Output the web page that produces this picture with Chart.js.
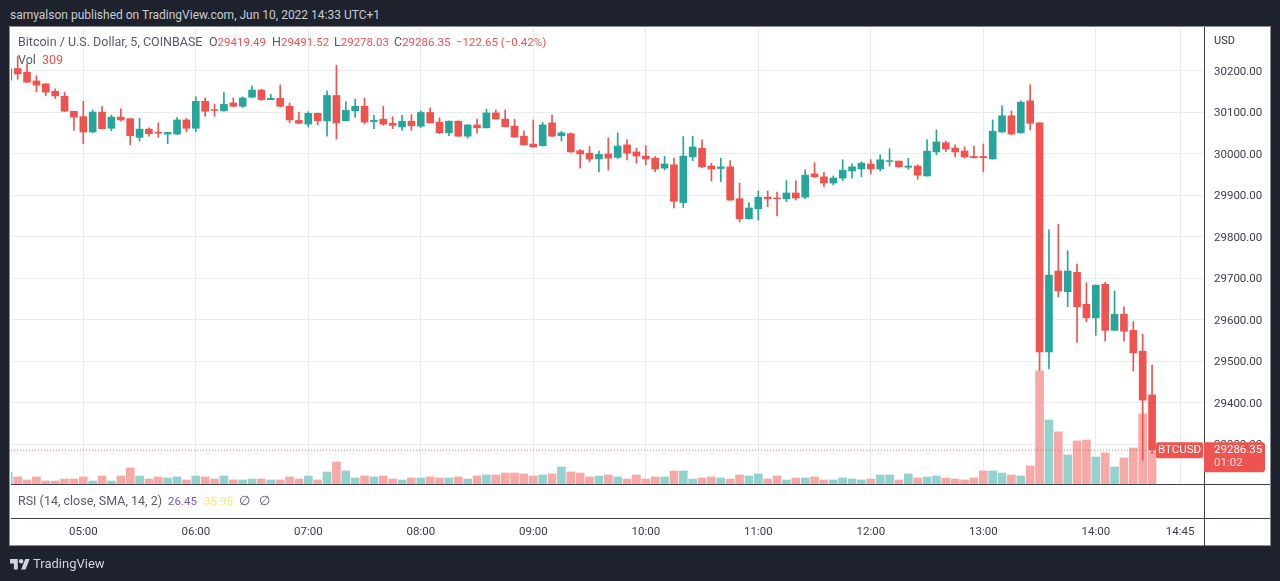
<!DOCTYPE html>
<html>
<head>
<meta charset="utf-8">
<title>BTCUSD 5m</title>
<script src="https://cdn.jsdelivr.net/npm/chart.js@4/dist/chart.umd.min.js"></script>
<style>
  html, body { margin: 0; padding: 0; background: #1e222d; width: 1280px; height: 581px; overflow: hidden; }
  body { font-family: "Roboto", sans-serif; position: relative; }
  .abs { position: absolute; white-space: nowrap; }
  #frame { left: 10px; top: 27px; width: 1260px; height: 518px; background: #fff; box-shadow: 0 0 0 1px #8a8d95; }
  .hline { left: 11px; width: 1259px; height: 1px; background: #3c3f47; }
  #vline { left: 1204px; top: 27px; width: 1px; height: 519px; background: #3c3f47; }
  canvas { position: absolute; left: 0; top: 0; }
  #published { left: 10px; top: 8px; font-size: 12px; color: #c8cbd2; }
  .legend { font-size: 12.5px; color: #555a66; }
  .num { font-size: 11.5px; }
  .red { color: #ef5350; }
  #brand { left: 33px; top: 556px; font-size: 13px; color: #d1d4dc; }
  #logo { left: 10px; top: 557px; }
</style>
</head>
<body>
<div class="abs" id="published">samyalson published on TradingView.com, Jun 10, 2022 14:33 UTC+1</div>
<div class="abs" id="frame"></div>
<div class="abs hline" style="top:484px"></div>
<div class="abs hline" style="top:518px"></div>
<div class="abs" id="vline"></div>
<canvas id="btcChart" width="1280" height="581"></canvas>

<div class="abs legend" style="left:18px;top:34px">Bitcoin / U.S. Dollar, 5, COINBASE</div>
<div class="abs legend" style="left:209px;top:34px">O<span class="red num">29419.49</span></div>
<div class="abs legend" style="left:272px;top:34px">H<span class="red num">29491.52</span></div>
<div class="abs legend" style="left:334px;top:34px">L<span class="red num">29278.03</span></div>
<div class="abs legend" style="left:394px;top:34px">C<span class="red num">29286.35</span></div>
<div class="abs legend red num" style="left:456px;top:35px">−122.65 (−0.42%)</div>
<div class="abs legend" style="left:18px;top:52px">Vol</div>
<div class="abs legend red" style="left:42px;top:52px">309</div>
<div class="abs legend" style="left:18px;top:493px">RSI (14, close, SMA, 14, 2)</div>
<div class="abs legend num" style="left:168px;top:494px;color:#7e57c2">26.45</div>
<div class="abs legend num" style="left:204px;top:494px;color:#f9e76b">35.95</div>
<div class="abs legend" style="left:239px;top:493px">∅</div>
<div class="abs legend" style="left:259px;top:493px">∅</div>
<div class="abs" style="left:1214px;top:34px;font-size:11px;color:#333">USD</div>

<svg class="abs" id="logo" width="20" height="14" viewBox="0 0 36 24">
  <path fill="#d1d4dc" d="M14 22H7V11H0V3h14v19zM28 22h-8l7.5-19h8L28 22z"/>
  <circle fill="#d1d4dc" cx="20" cy="7" r="4"/>
</svg>
<div class="abs" id="brand">TradingView</div>

<script>
// 5 minute bars
const barTimes = [
  "04:20","04:25","04:30","04:35","04:40","04:45","04:50","04:55",
  "05:00","05:05","05:10","05:15","05:20","05:25","05:30","05:35","05:40","05:45","05:50","05:55",
  "06:00","06:05","06:10","06:15","06:20","06:25","06:30","06:35","06:40","06:45","06:50","06:55",
  "07:00","07:05","07:10","07:15","07:20","07:25","07:30","07:35","07:40","07:45","07:50","07:55",
  "08:00","08:05","08:10","08:15","08:20","08:25","08:30","08:35","08:40","08:45","08:50","08:55",
  "09:00","09:05","09:10","09:15","09:20","09:25","09:30","09:35","09:40","09:45","09:50","09:55",
  "10:00","10:05","10:10","10:15","10:20","10:25","10:30","10:35","10:40","10:45","10:50","10:55",
  "11:00","11:05","11:10","11:15","11:20","11:25","11:30","11:35","11:40","11:45","11:50","11:55",
  "12:00","12:05","12:10","12:15","12:20","12:25","12:30","12:35","12:40","12:45","12:50","12:55",
  "13:00","13:05","13:10","13:15","13:20","13:25","13:30","13:35","13:40","13:45","13:50","13:55",
  "14:00","14:05","14:10","14:15","14:20","14:25","14:30"
];
const opens = [
  30178,30206,30197,30176,30169,30151,30139,30103,
  30090,30053,30101,30062,30089,30085,30040,30060,30052,30048,30048,30082,
  30062,30127,30107,30104,30123,30115,30137,30154,30131,30134,30115,30081,
  30072,30098,30080,30141,30080,30104,30115,30078,30084,30074,30065,30079,
  30067,30100,30077,30051,30079,30043,30070,30063,30099,30084,30067,30043,
  30024,30020,30075,30044,30049,30008,30002,29988,30000,29992,30022,30005,
  29995,29990,29966,29974,29883,29993,30014,29971,29965,29969,29892,29844,
  29868,29896,29894,29892,29906,29896,29952,29945,29930,29942,29959,29964,
  29976,29964,29982,29983,29968,29971,29947,30005,30027,30014,30007,29994,
  29994,29988,30053,30092,30051,30128,30075,29523,29718,29668,29715,29638,
  29605,29686,29575,29614,29575,29525,29419.49
];
const highs = [
  30205,30235,30218,30188,30170,30157,30149,30103,
  30127,30106,30115,30094,30109,30086,30086,30063,30075,30052,30088,30086,
  30138,30135,30120,30148,30135,30138,30164,30156,30144,30166,30123,30101,
  30102,30099,30152,30214,30126,30132,30135,30093,30115,30090,30093,30095,
  30104,30111,30087,30080,30080,30071,30084,30108,30106,30106,30084,30056,
  30082,30076,30094,30055,30051,30011,30018,30007,30039,30051,30034,30014,
  30020,29994,29995,29990,30042,30043,30034,29978,29990,29984,29930,29883,
  29911,29911,29908,29936,29936,29962,29979,29956,29947,29986,29976,29981,
  29986,29998,30013,29983,29990,29974,30034,30058,30031,30022,30017,30019,
  30024,30082,30116,30104,30128,30167,30075,29817,29831,29767,29735,29690,
  29684,29691,29670,29632,29596,29566,29491.52
];
const lows = [
  30178,30180,30172,30150,30140,30134,30102,30057,
  30025,30051,30061,30056,30080,30022,30031,30043,30040,30025,30047,30053,
  30054,30091,30091,30103,30114,30112,30135,30129,30131,30114,30075,30073,
  30065,30070,30043,30036,30080,30088,30073,30061,30069,30061,30057,30057,
  30064,30074,30049,30044,30042,30038,30050,30063,30084,30065,30040,30022,
  30016,30019,30042,30031,30004,29966,29981,29957,29961,29989,29986,29978,
  29974,29957,29962,29870,29871,29984,29967,29935,29933,29888,29836,29843,
  29841,29873,29851,29885,29889,29892,29943,29921,29925,29936,29942,29945,
  29952,29959,29971,29968,29963,29939,29947,29998,30006,29993,29990,29990,
  29957,29988,30052,30046,30050,30058,29478,29482,29656,29632,29546,29596,
  29563,29549,29575,29549,29477,29262,29278.03
];
const closes = [
  30205,30193,30173,30166,30149,30140,30103,30089,
  30053,30101,30061,30089,30082,30044,30060,30049,30050,30052,30082,30062,
  30127,30103,30105,30120,30115,30135,30154,30131,30134,30115,30082,30074,
  30098,30080,30141,30075,30105,30115,30077,30081,30072,30069,30079,30068,
  30100,30075,30051,30079,30043,30070,30063,30099,30084,30066,30041,30022,
  30017,30070,30043,30051,30005,30000,29988,29999,29990,30019,30002,29995,
  29988,29964,29976,29886,29995,30017,29969,29964,29969,29889,29844,29870,
  29896,29892,29892,29906,29894,29949,29945,29930,29942,29961,29969,29978,
  29964,29986,29984,29969,29971,29949,30007,30029,30012,30005,29993,29991,
  29991,30055,30092,30048,30125,30074,29523,29708,29670,29718,29632,29605,
  29684,29575,29614,29573,29521,29407,29286.35
];
const volumes = [
  113,68,39,68,29,29,48,48,
  68,29,77,29,77,155,77,48,68,58,68,39,
  77,68,48,77,39,39,48,48,39,39,68,48,
  77,39,116,213,126,58,77,68,77,48,39,58,
  58,68,58,58,68,48,77,87,87,106,106,97,
  77,87,97,164,116,106,68,77,87,68,48,87,
  48,68,68,126,126,48,58,68,58,48,87,77,
  97,48,77,39,58,58,68,39,39,58,48,39,
  48,87,87,39,97,58,68,77,58,48,39,58,
  126,126,106,87,77,174,1092,618,503,280,415,425,
  261,300,164,251,348,676,309
];
const priceTicks = [29300,29400,29500,29600,29700,29800,29900,30000,30100,30200];
const timeTicks = ["05:00","06:00","07:00","08:00","09:00","10:00","11:00","12:00","13:00","14:00","14:45"];
const lastClose = 29286.35;
const countdown = "01:02";
const symbol = "BTCUSD";

const UP = "#26a69a";
const DOWN = "#ef5350";
const UP_VOL = "#92d3cd";
const DOWN_VOL = "#f7a9a8";
const FONT = "Roboto, sans-serif";

function toMinutes(t) {
  const parts = t.split(":");
  return Number(parts[0]) * 60 + Number(parts[1]);
}
function toLabel(m) {
  return timeTicks.find((t) => toMinutes(t) === m) || "";
}

const xs = barTimes.map(toMinutes);
const isUp = closes.map((c, i) => c >= opens[i]);
// visible window of the time axis, in minutes since midnight
const xMin = 261.44;
const xMax = 897.7;

// red price tags on top of the axis, follow the y scale
const priceTagPlugin = {
  id: "priceTag",
  afterDraw(chart) {
    const ctx = chart.ctx;
    const y = chart.scales.y.getPixelForValue(lastClose);
    const right = chart.chartArea.right;
    ctx.save();
    ctx.fillStyle = DOWN;
    ctx.beginPath();
    ctx.roundRect(right - 48, y - 8, 47, 16, 2);
    ctx.fill();
    ctx.beginPath();
    ctx.roundRect(right, y - 8, 61, 30, [0, 3, 3, 0]);
    ctx.fill();
    ctx.fillStyle = "#fff";
    ctx.font = "11.5px " + FONT;
    ctx.textBaseline = "middle";
    ctx.textAlign = "center";
    ctx.fillText(symbol, right - 24.5, y);
    ctx.textAlign = "left";
    ctx.fillText(lastClose.toFixed(2), right + 10, y);
    ctx.fillStyle = "#fdd";
    ctx.fillText(countdown, right + 10, y + 13);
    ctx.restore();
  },
};

const btcChart = new Chart(document.getElementById("btcChart"), {
  type: "bar",
  data: {
    datasets: [
      {
        label: "Body",
        data: xs.map((x, i) => ({ x: x, y: [opens[i], closes[i]] })),
        backgroundColor: isUp.map((u) => (u ? UP : DOWN)),
        barThickness: 7,
        grouped: false,
        order: 1,
      },
      {
        label: "Wick",
        data: xs.map((x, i) => ({ x: x, y: [lows[i], highs[i]] })),
        backgroundColor: isUp.map((u) => (u ? UP : DOWN)),
        barThickness: 1,
        grouped: false,
        order: 2,
      },
      {
        type: "line",
        label: "Last",
        data: [{ x: xMin, y: lastClose }, { x: xMax, y: lastClose }],
        borderColor: "rgba(190,110,105,0.9)",
        borderWidth: 1,
        borderDash: [1, 2],
        pointRadius: 0,
        order: 3,
      },
      {
        label: "Vol",
        data: xs.map((x, i) => ({ x: x, y: volumes[i] })),
        backgroundColor: isUp.map((u) => (u ? UP_VOL : DOWN_VOL)),
        yAxisID: "vol",
        barThickness: 8,
        grouped: false,
        order: 4,
      },
    ],
  },
  options: {
    responsive: false,
    animation: false,
    events: [],
    layout: { padding: { left: 11, top: 28, right: 15, bottom: 36 } },
    plugins: { legend: { display: false }, tooltip: { enabled: false } },
    scales: {
      x: {
        type: "linear",
        min: xMin,
        max: xMax,
        offset: false,
        afterBuildTicks: (scale) => {
          scale.ticks = timeTicks.map((t) => ({ value: toMinutes(t) }));
        },
        afterFit: (scale) => {
          scale.height = 61;
        },
        ticks: {
          callback: (v) => toLabel(v),
          autoSkip: false,
          maxRotation: 0,
          padding: 41,
          color: "#3a3d45",
          font: { family: FONT, size: 11.5 },
        },
        grid: { offset: false, color: "#e4ecef", drawTicks: false },
        border: { display: false },
      },
      y: {
        position: "right",
        min: 29204.8,
        max: 30303.6,
        afterBuildTicks: (scale) => {
          scale.ticks = priceTicks.map((p) => ({ value: p }));
        },
        afterFit: (scale) => {
          scale.width = 61;
        },
        ticks: {
          callback: (v) => v.toFixed(2),
          padding: 10,
          labelOffset: 1,
          color: "#3a3d45",
          font: { family: FONT, size: 11.5 },
        },
        grid: { color: "#e9edf0", drawTicks: false },
        border: { display: false },
      },
      vol: {
        display: false,
        position: "left",
        min: 0,
        max: 4400,
      },
    },
  },
  plugins: [priceTagPlugin],
});
</script>
</body>
</html>
